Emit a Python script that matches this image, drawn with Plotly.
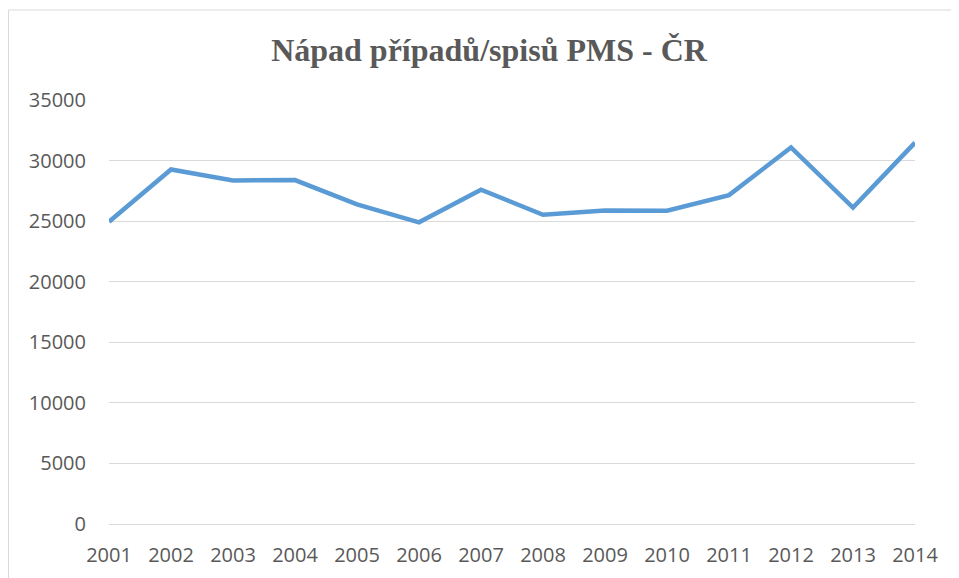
import plotly.graph_objects as go

years = [2001, 2002, 2003, 2004, 2005, 2006, 2007, 2008, 2009, 2010, 2011, 2012, 2013, 2014]
cases = [24950, 29270, 28360, 28390, 26380, 24900, 27600, 25520, 25880, 25860, 27150, 31080, 26120, 31480]
y_ticks = [0, 5000, 10000, 15000, 20000, 25000, 30000, 35000]
title_text = "Nápad případů/spisů PMS - ČR"

W, H = 959, 578
OFF = 8  # page body margin offset
L, T = 109 - OFF, 100 - OFF
R = W - (915 - OFF)
B = H - (524 - OFF)
pw, ph = W - L - R, H - T - B

fig = go.Figure()
fig.add_trace(go.Scatter(
    x=years, y=cases, mode="lines",
    line=dict(color="#5B9BD5", width=4.5),
    hoverinfo="x+y",
))

fig.update_layout(
    width=W, height=H,
    margin=dict(l=L, r=R, t=T, b=B),
    paper_bgcolor="white", plot_bgcolor="white",
    showlegend=False,
    title=dict(
        text=title_text,
        x=(489 - OFF) / W, xref="container", xanchor="center",
        y=1 - (50 - OFF) / H, yref="container", yanchor="middle",
        font=dict(family="Liberation Serif", size=32, color="#595959", weight="bold"),
    ),
    font=dict(family="Open Sans", size=20, color="#595959"),
    xaxis=dict(
        range=[years[0], years[-1]],
        tickmode="array", tickvals=years, ticktext=[str(y) for y in years],
        showgrid=False, zeroline=False,
        showline=True, linecolor="#D9D9D9", linewidth=1,
        ticks="", ticklabelstandoff=13,
        tickfont=dict(family="Open Sans", size=20, color="#595959"),
    ),
    yaxis=dict(
        range=[0, 35000],
        tickmode="array", tickvals=y_ticks, ticktext=[str(v) for v in y_ticks],
        showgrid=True, gridcolor="#D9D9D9", gridwidth=1.3,
        zeroline=False, showline=False,
        ticks="", ticklabelstandoff=22,
        tickfont=dict(family="Open Sans", size=20, color="#595959"),
    ),
)

# chart-area border (Excel style), partly cropped at right/bottom
fig.add_shape(
    type="rect", xref="paper", yref="paper",
    x0=(8 - OFF - L + 0.5) / pw, x1=1.3, y0=-0.5, y1=(H - B - (10 - OFF)) / ph,
    line=dict(color="#D9D9D9", width=1), fillcolor="rgba(0,0,0,0)", layer="below",
)

fig.write_html("out.html")
